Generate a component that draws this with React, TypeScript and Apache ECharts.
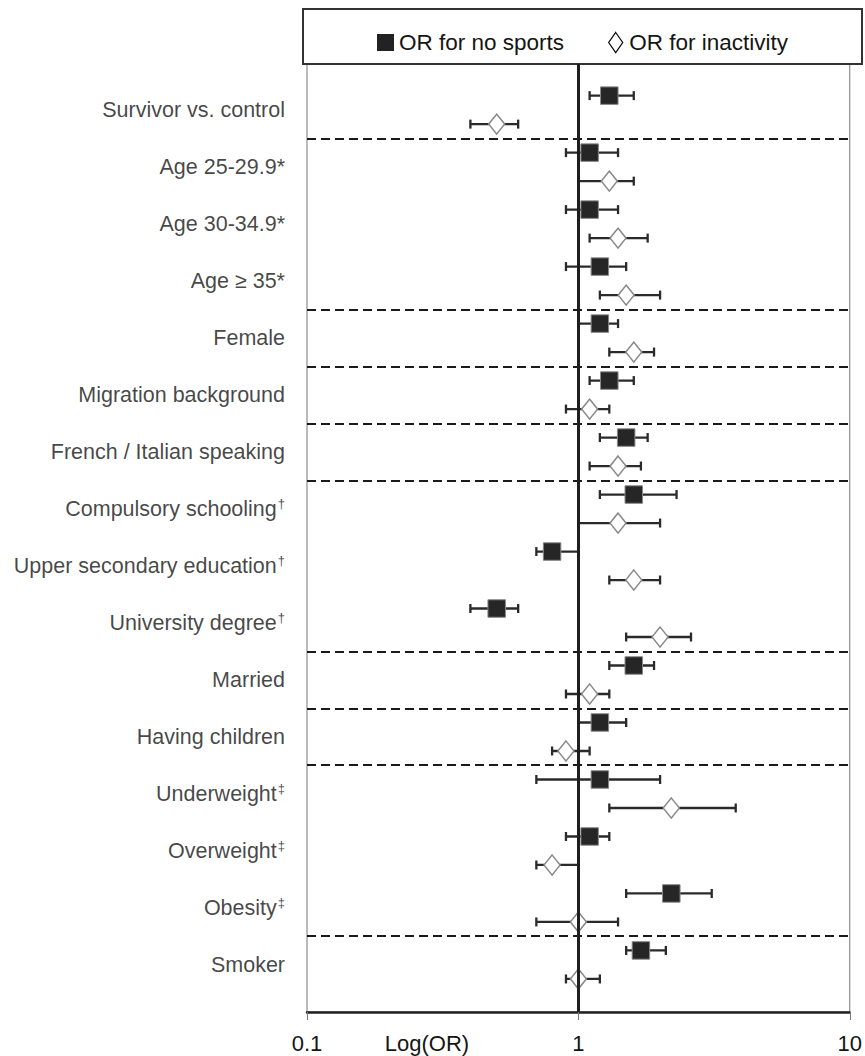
import React, { useEffect, useRef } from "react";
import * as echarts from "echarts";

const categories = [
  "Survivor vs. control",
  "Age 25-29.9*",
  "Age 30-34.9*",
  "Age \u2265 35*",
  "Female",
  "Migration background",
  "French / Italian speaking",
  "Compulsory schooling",
  "Upper secondary education",
  "University degree",
  "Married",
  "Having children",
  "Underweight",
  "Overweight",
  "Obesity",
  "Smoker",
];
const superscripts = ["", "", "", "", "", "", "", "\u2020", "\u2020", "\u2020", "", "", "\u2021", "\u2021", "\u2021", ""];

const noSportsOR = [1.3, 1.1, 1.1, 1.2, 1.2, 1.3, 1.5, 1.6, 0.8, 0.5, 1.6, 1.2, 1.2, 1.1, 2.2, 1.7];
const noSportsLo = [1.1, 0.9, 0.9, 0.9, 1.0, 1.1, 1.2, 1.2, 0.7, 0.4, 1.3, 1.0, 0.7, 0.9, 1.5, 1.5];
const noSportsHi = [1.6, 1.4, 1.4, 1.5, 1.4, 1.6, 1.8, 2.3, 1.0, 0.6, 1.9, 1.5, 2.0, 1.3, 3.1, 2.1];

const inactOR = [0.5, 1.3, 1.4, 1.5, 1.6, 1.1, 1.4, 1.4, 1.6, 2.0, 1.1, 0.9, 2.2, 0.8, 1.0, 1.0];
const inactLo = [0.4, 1.0, 1.1, 1.2, 1.3, 0.9, 1.1, 1.0, 1.3, 1.5, 0.9, 0.8, 1.3, 0.7, 0.7, 0.9];
const inactHi = [0.6, 1.6, 1.8, 2.0, 1.9, 1.3, 1.7, 2.0, 2.0, 2.6, 1.3, 1.1, 3.8, 1.0, 1.4, 1.2];

// indices of categories after which a dashed separator is drawn
const separatorsAfter = [0, 3, 4, 5, 6, 9, 10, 11, 14];

const xTicks = [0.1, 1, 10];

const FONT = '"Liberation Sans", Arial, sans-serif';
const TEXT = "#151515";

export default function App() {
  const ref = useRef<HTMLDivElement>(null);

  useEffect(() => {
    if (!ref.current) return;
    const chart = echarts.init(ref.current, null, { renderer: "svg" });

    const rowSq = (i: number) => 2 * i;
    const rowDi = (i: number) => 2 * i + 1;

    const sqData = categories.map((_, i) => [noSportsOR[i], rowSq(i)]);
    const diData = categories.map((_, i) => [inactOR[i], rowDi(i)]);
    const errData = [
      ...categories.map((_, i) => [noSportsLo[i], noSportsHi[i], rowSq(i)]),
      ...categories.map((_, i) => [inactLo[i], inactHi[i], rowDi(i)]),
    ];
    const labelData = categories.map((c, i) => ({ value: [xTicks[0], 2 * i + 0.5], name: c, sup: superscripts[i] }));

    const option: any = {
      animation: false,
      backgroundColor: "#fff",
      textStyle: { fontFamily: FONT },
      graphic: [
        {
          type: "rect",
          z: 0,
          shape: { x: 303, y: 9, width: 559, height: 55 },
          style: { fill: "#fff", stroke: "#333", lineWidth: 2 },
        },
        {
          type: "text",
          x: 427,
          y: 1043,
          style: {
            text: "Log(OR)",
            font: `22px ${FONT}`,
            fill: TEXT,
            textAlign: "center",
            textVerticalAlign: "middle",
          },
        },
      ],
      legend: {
        left: 372,
        top: 26,
        itemWidth: 17,
        itemHeight: 20,
        itemGap: 44,
        selectedMode: false,
        textStyle: { fontSize: 22.5, color: TEXT, fontFamily: FONT },
        data: [
          {
            name: "OR for no sports",
            icon: "path://M0,0H10V10H0Z",
            itemStyle: { color: "#222", borderWidth: 0 },
          },
          {
            name: "OR for inactivity",
            icon: "path://M7,0L14,10L7,20L0,10Z",
            itemStyle: { color: "#fff", borderColor: "#111", borderWidth: 1.3 },
          },
        ],
      },
      grid: {
        left: 307,
        right: 8,
        top: 64,
        bottom: 44,
        show: true,
        borderColor: "#777",
        borderWidth: 1,
      },
      xAxis: {
        type: "log",
        logBase: 10,
        min: xTicks[0],
        max: xTicks[xTicks.length - 1],
        axisLine: { show: true, onZero: false, lineStyle: { color: "#222", width: 2.5 } },
        axisTick: { show: true, length: 8, lineStyle: { color: "#777", width: 1 } },
        axisLabel: { fontSize: 22, color: TEXT, margin: 20, fontFamily: FONT },
        splitLine: { show: false },
      },
      yAxis: {
        type: "value",
        inverse: true,
        min: -1.11,
        max: 32.16,
        show: false,
      },
      series: [
        {
          name: "separators",
          type: "scatter",
          data: [],
          silent: true,
          z: 1,
          markLine: {
            silent: true,
            symbol: "none",
            label: { show: false },
            lineStyle: { color: "#1a1a1a", width: 2.2, type: [9, 5] },
            data: separatorsAfter.map((i) => ({ yAxis: 2 * (i + 1) - 0.5 })),
          },
        },
        {
          name: "errorbars",
          type: "custom",
          z: 2,
          silent: true,
          data: errData,
          encode: { x: [0, 1], y: 2 },
          renderItem: (params: any, api: any) => {
            const y = api.value(2);
            const lo = api.coord([api.value(0), y]);
            const hi = api.coord([api.value(1), y]);
            const h = 4.5;
            const style = { stroke: "#2a2a2a", lineWidth: 2.3 };
            return {
              type: "group",
              children: [
                { type: "line", shape: { x1: lo[0], y1: lo[1], x2: hi[0], y2: hi[1] }, style },
                { type: "line", shape: { x1: lo[0], y1: lo[1] - h, x2: lo[0], y2: lo[1] + h }, style },
                { type: "line", shape: { x1: hi[0], y1: hi[1] - h, x2: hi[0], y2: hi[1] + h }, style },
              ],
            };
          },
        },
        {
          name: "OR for no sports",
          type: "scatter",
          z: 3,
          symbol: "rect",
          symbolSize: 17.5,
          itemStyle: { color: "#262626", borderColor: "#888", borderWidth: 1, opacity: 1 },
          data: sqData,
        },
        {
          name: "OR for inactivity",
          type: "scatter",
          z: 3,
          symbol: "diamond",
          symbolSize: [16, 20],
          itemStyle: { color: "#fff", borderColor: "#888", borderWidth: 1.5, opacity: 1 },
          data: diData,
        },
        {
          name: "refline",
          type: "scatter",
          data: [],
          silent: true,
          z: 5,
          markLine: {
            silent: true,
            symbol: "none",
            label: { show: false },
            lineStyle: { color: "#1e1e1e", width: 3, type: "solid" },
            data: [{ xAxis: 1 }],
          },
        },
        {
          name: "labels",
          type: "scatter",
          silent: true,
          symbolSize: 0.001,
          itemStyle: { color: "rgba(0,0,0,0)" },
          data: labelData,
          label: {
            show: true,
            position: "left",
            distance: 22,
            color: TEXT,
            fontSize: 21.5,
            fontFamily: FONT,
            formatter: (p: any) => {
              const sup = p.data.sup;
              return sup ? `{n|${p.data.name}}{s|${sup}}` : `{n|${p.data.name}}`;
            },
            rich: {
              n: { fontSize: 21.5, color: TEXT, fontFamily: FONT, lineHeight: 24 },
              s: { fontSize: 13, color: TEXT, fontFamily: FONT, verticalAlign: "top", lineHeight: 24, padding: [0, 0, 8, 1] },
            },
          },
        },
      ],
    };

    chart.setOption(option);
    return () => chart.dispose();
  }, []);

  return (
    <div
      ref={ref}
      style={{ position: "absolute", left: 0, top: 0, width: 865, height: 1056, background: "#fff" }}
    />
  );
}
